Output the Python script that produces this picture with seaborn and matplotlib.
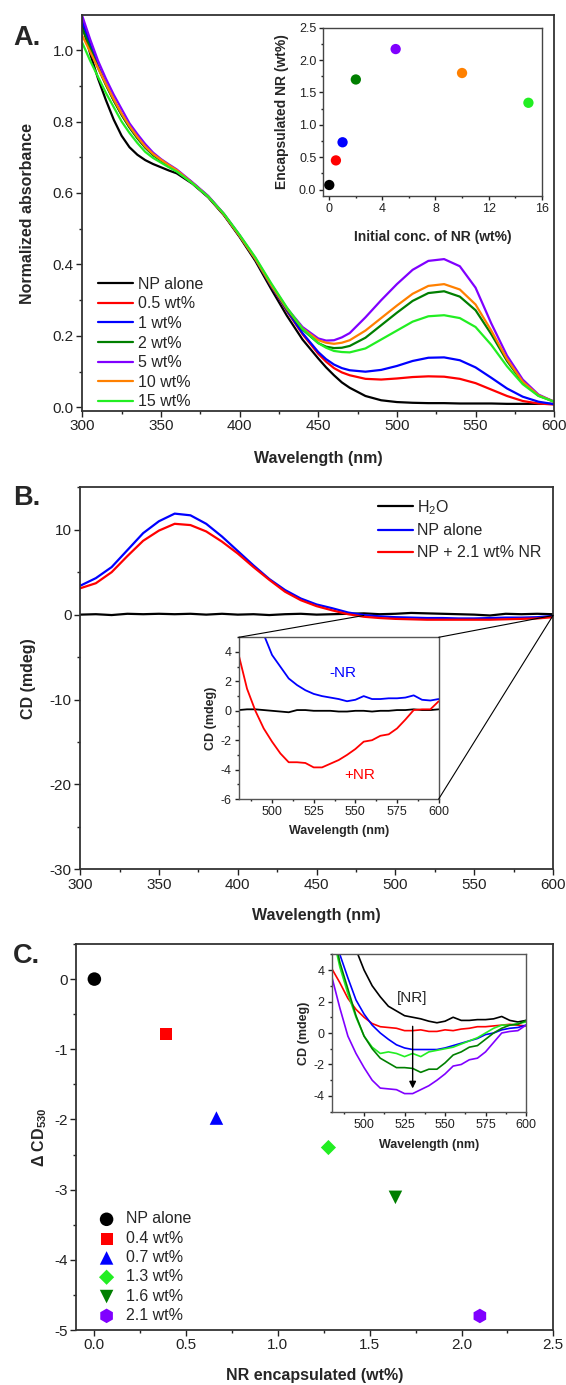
import numpy as np
import pandas as pd
import matplotlib
matplotlib.use("Agg")
import matplotlib.pyplot as plt
import seaborn as sns
from matplotlib.ticker import MultipleLocator
from matplotlib.patches import ConnectionPatch

# ---------------- Panel A: normalized absorbance spectra ----------------
wl_A = [300, 305, 310, 315, 320, 325, 330, 335, 340, 345, 350, 355, 360,
        370, 380, 390, 400, 410, 420, 430, 440, 450, 455, 460, 465, 470, 480, 490, 500,
        510, 520, 530, 540, 550, 560, 570, 580, 590, 600]
abs_np_alone = [1.07, 0.99, 0.92, 0.86, 0.805, 0.76, 0.728, 0.707, 0.692, 0.681, 0.672, 0.663, 0.655,
                0.626, 0.588, 0.538, 0.477, 0.41, 0.332, 0.257, 0.19, 0.137, 0.112, 0.09, 0.07, 0.055,
                0.032, 0.02, 0.015, 0.013, 0.012, 0.012, 0.011, 0.011, 0.011, 0.01, 0.01, 0.01, 0.01]
abs_05 = [1.085, 1.015, 0.955, 0.905, 0.86, 0.82, 0.785, 0.755, 0.728, 0.707, 0.692, 0.676, 0.662,
          0.628, 0.59, 0.54, 0.48, 0.415, 0.34, 0.27, 0.205, 0.15, 0.128, 0.11, 0.098, 0.09,
          0.08, 0.078, 0.081, 0.085, 0.087, 0.086, 0.08, 0.068, 0.05, 0.032, 0.018, 0.011, 0.008]
abs_1 = [1.08, 1.015, 0.955, 0.905, 0.86, 0.82, 0.785, 0.755, 0.728, 0.707, 0.692, 0.676, 0.662,
         0.628, 0.59, 0.54, 0.48, 0.415, 0.34, 0.272, 0.208, 0.155, 0.135, 0.12, 0.11, 0.104,
         0.1, 0.105, 0.116, 0.13, 0.139, 0.14, 0.132, 0.112, 0.083, 0.053, 0.03, 0.016, 0.009]
abs_2 = [1.06, 1.005, 0.95, 0.902, 0.858, 0.818, 0.783, 0.753, 0.727, 0.706, 0.691, 0.676, 0.662,
         0.628, 0.59, 0.54, 0.48, 0.415, 0.342, 0.275, 0.218, 0.18, 0.17, 0.166, 0.167, 0.172,
         0.195, 0.23, 0.265, 0.298, 0.32, 0.325, 0.31, 0.272, 0.205, 0.13, 0.07, 0.033, 0.016]
abs_5 = [1.095, 1.03, 0.97, 0.92, 0.875, 0.835, 0.795, 0.765, 0.737, 0.713, 0.695, 0.68, 0.666,
         0.63, 0.592, 0.542, 0.482, 0.418, 0.345, 0.278, 0.225, 0.193, 0.187, 0.188, 0.196, 0.208,
         0.252, 0.3, 0.345, 0.385, 0.41, 0.415, 0.395, 0.335, 0.235, 0.145, 0.078, 0.036, 0.016]
abs_10 = [1.04, 0.995, 0.95, 0.905, 0.862, 0.822, 0.787, 0.757, 0.73, 0.709, 0.693, 0.678, 0.664,
          0.628, 0.59, 0.54, 0.48, 0.416, 0.343, 0.277, 0.221, 0.188, 0.181, 0.178, 0.181, 0.188,
          0.215, 0.25, 0.285, 0.318, 0.34, 0.345, 0.33, 0.288, 0.215, 0.135, 0.072, 0.034, 0.016]
abs_15 = [1.02, 0.97, 0.925, 0.88, 0.84, 0.8, 0.768, 0.74, 0.715, 0.698, 0.685, 0.672, 0.66,
          0.627, 0.59, 0.542, 0.483, 0.42, 0.348, 0.28, 0.22, 0.18, 0.167, 0.158, 0.155, 0.154,
          0.165, 0.19, 0.215, 0.24, 0.255, 0.258, 0.25, 0.225, 0.175, 0.115, 0.065, 0.032, 0.016]
labels_A = ["NP alone", "0.5 wt%", "1 wt%", "2 wt%", "5 wt%", "10 wt%", "15 wt%"]
colors_A = ["#000000", "#ff0000", "#0000ff", "#007f00", "#8000ff", "#ff8000", "#22ee22"]

# inset A: encapsulation
init_conc = [0, 0.5, 1, 2, 5, 10, 15]
encap_nr = [0.07, 0.45, 0.73, 1.70, 2.17, 1.80, 1.34]

# ---------------- Panel B: CD spectra ----------------
wl_B = list(range(300, 601, 10))
cd_h2o = [0.0, 0.05, -0.05, 0.1, 0.05, 0.1, 0.05, 0.1, 0.0, 0.1, 0.0, 0.05, -0.05, 0.05,
          0.1, 0.0, 0.05, 0.1, 0.15, 0.05, 0.1, 0.2, 0.15, 0.1, 0.05, 0.0, -0.1, 0.1,
          0.05, 0.1, 0.05]
cd_np = [3.4, 4.3, 5.6, 7.6, 9.6, 11.0, 11.9, 11.7, 10.7, 9.2, 7.5, 5.8, 4.2, 2.9, 1.9,
         1.2, 0.75, 0.25, -0.05, -0.2, -0.3, -0.35, -0.4, -0.4, -0.45, -0.45, -0.4,
         -0.35, -0.35, -0.3, -0.15]
cd_np_nr = [3.1, 3.7, 5.0, 6.9, 8.7, 9.9, 10.7, 10.55, 9.8, 8.6, 7.2, 5.6, 4.1, 2.7, 1.7,
            1.0, 0.5, 0.05, -0.25, -0.4, -0.5, -0.55, -0.6, -0.6, -0.6, -0.6, -0.6,
            -0.55, -0.5, -0.45, -0.3]

# zoomed CD, 480-600 nm
wl_zoom = list(range(480, 601, 5))
zoom_h2o = [0.05, 0.1, 0.1, 0.05, 0.0, -0.05, -0.1, 0.05, 0.05, 0.0, 0.0, 0.0, -0.05,
            -0.05, 0.0, 0.0, -0.05, 0.0, 0.0, 0.05, 0.05, 0.1, 0.05, 0.05, 0.1]
zoom_np = [12.0, 9.0, 6.8, 5.2, 3.8, 3.0, 2.2, 1.75, 1.4, 1.15, 1.0, 0.9, 0.8, 0.65,
           0.75, 1.0, 0.8, 0.8, 0.85, 0.85, 0.9, 1.05, 0.75, 0.7, 0.8]
zoom_np_nr = [3.8, 1.5, 0.0, -1.2, -2.1, -2.9, -3.5, -3.5, -3.55, -3.85, -3.85, -3.6,
              -3.35, -3.0, -2.6, -2.1, -2.0, -1.7, -1.6, -1.2, -0.6, 0.05, 0.1, 0.1, 0.65]

# ---------------- Panel C: delta CD at 530 nm ----------------
nr_encap = [0.0, 0.39, 0.665, 1.275, 1.64, 2.10]
delta_cd = [0.0, -0.785, -1.98, -2.40, -3.11, -4.80]
labels_C = ["NP alone", "0.4 wt%", "0.7 wt%", "1.3 wt%", "1.6 wt%", "2.1 wt%"]
colors_C = ["#000000", "#ff0000", "#0000ff", "#22ee22", "#007f00", "#8000ff"]
markers_C = ["o", "s", "^", "D", "v", "h"]
sizes_C = [95, 75, 95, 60, 95, 110]

# inset C: CD 480-600 nm per loading
cdz_0 = [12.0, 9.0, 6.8, 5.3, 4.0, 3.0, 2.3, 1.7, 1.4, 1.1, 1.0, 0.9, 0.75, 0.65,
         0.75, 1.0, 0.8, 0.8, 0.85, 0.85, 0.9, 1.05, 0.8, 0.7, 0.8]
cdz_04 = [4.1, 3.2, 2.2, 1.5, 1.0, 0.6, 0.4, 0.35, 0.3, 0.15, 0.15, 0.2, 0.1, 0.1,
          0.2, 0.15, 0.25, 0.3, 0.4, 0.4, 0.45, 0.5, 0.55, 0.5, 0.45]
cdz_07 = [8.0, 5.0, 3.5, 2.1, 1.2, 0.5, 0.0, -0.4, -0.75, -0.95, -1.05, -1.05, -1.05,
          -1.05, -0.95, -0.8, -0.65, -0.5, -0.35, -0.1, 0.0, 0.2, 0.3, 0.35, 0.5]
cdz_13 = [6.5, 4.2, 2.5, 1.0, -0.2, -0.9, -1.3, -1.2, -1.3, -1.5, -1.3, -1.5, -1.2,
          -1.1, -1.0, -0.9, -0.7, -0.5, -0.3, 0.0, 0.3, 0.5, 0.5, 0.6, 0.7]
cdz_16 = [7.0, 4.5, 2.8, 1.1, -0.2, -1.0, -1.6, -1.9, -2.2, -2.2, -2.25, -2.5, -2.3,
          -2.3, -1.9, -1.4, -1.2, -0.9, -0.8, -0.4, 0.0, 0.3, 0.5, 0.55, 0.8]
cdz_21 = [3.6, 1.6, -0.2, -1.3, -2.2, -3.0, -3.5, -3.55, -3.6, -3.85, -3.85, -3.6,
          -3.35, -3.0, -2.6, -2.1, -2.0, -1.7, -1.6, -1.2, -0.6, 0.0, 0.1, 0.15, 0.5]

# ---------------- style ----------------
sns.set_theme(style="ticks")
plt.rcParams["font.family"] = ["Liberation Sans", "DejaVu Sans"]
plt.rcParams["mathtext.fontset"] = "custom"
plt.rcParams["mathtext.rm"] = "Liberation Sans"
plt.rcParams["mathtext.it"] = "Liberation Sans:italic"
plt.rcParams["mathtext.bf"] = "Liberation Sans:bold"
plt.rcParams["axes.unicode_minus"] = False

W, H = 566, 1385
fig = plt.figure(figsize=(W / 100, H / 100), dpi=100)


def px_axes(left, top, right, bottom):
    return fig.add_axes([left / W, 1 - bottom / H, (right - left) / W, (bottom - top) / H])


def style(ax, xmaj, xmin, ymaj, ymin, size, lw=1.3, color="#333333", tl=4):
    ax.xaxis.set_major_locator(MultipleLocator(xmaj))
    ax.xaxis.set_minor_locator(MultipleLocator(xmin))
    ax.yaxis.set_major_locator(MultipleLocator(ymaj))
    ax.yaxis.set_minor_locator(MultipleLocator(ymin))
    for sp in ax.spines.values():
        sp.set_visible(True)
        sp.set_linewidth(lw)
        sp.set_color(color)
    ax.tick_params(which="both", direction="out", top=False, right=False,
                   color="#222222", width=1.0, labelsize=size, labelcolor="#222222", pad=2)
    ax.tick_params(which="major", length=tl)
    ax.tick_params(which="minor", length=tl * 0.6)


BIG = 11
LAB = 11.5

# ================= Panel A =================
axA = px_axes(82.3, 15, 554.2, 411)
for yv, lab, col in zip([abs_np_alone, abs_05, abs_1, abs_2, abs_5, abs_10, abs_15],
                        labels_A, colors_A):
    sns.lineplot(x=wl_A, y=yv, color=col, lw=1.6, label=lab, ax=axA)
axA.set_xlim(300, 600)
axA.set_ylim(-0.01, 1.098)
style(axA, 50, 25, 0.2, 0.1, BIG)
axA.set_xlabel("Wavelength (nm)", fontsize=LAB, fontweight="bold", labelpad=13)
axA.set_ylabel("Normalized absorbance", fontsize=LAB, fontweight="bold", labelpad=13)
axA.legend(loc="lower left", bbox_to_anchor=(0.034, 0.004), frameon=False, fontsize=LAB,
           handlelength=2.2, handletextpad=0.27, labelspacing=0.29, borderpad=0,
           borderaxespad=0)

insA = px_axes(323.3, 27.7, 541.7, 196)
sns.scatterplot(x=init_conc, y=encap_nr, hue=labels_A, palette=colors_A, s=55,
                edgecolor="none", legend=False, ax=insA)
insA.set_xlim(-0.45, 16)
insA.set_ylim(-0.1, 2.5)
style(insA, 4, 2, 0.5, 0.25, 9, lw=1.0, color="#444444", tl=3)
insA.set_xlabel("Initial conc. of NR (wt%)", fontsize=10, fontweight="bold", labelpad=11)
insA.set_ylabel("Encapsulated NR (wt%)", fontsize=10, fontweight="bold", labelpad=7)

# ================= Panel B =================
axB = px_axes(80.1, 487.3, 553, 869.3)
sns.lineplot(x=wl_B, y=cd_h2o, color="black", lw=1.6, label="H$_\\mathrm{2}$O", ax=axB)
sns.lineplot(x=wl_B, y=cd_np, color="#0000ff", lw=1.6, label="NP alone", ax=axB)
sns.lineplot(x=wl_B, y=cd_np_nr, color="#ff0000", lw=1.6, label="NP + 2.1 wt% NR", ax=axB)
axB.set_xlim(300, 600)
axB.set_ylim(-30, 15)
style(axB, 50, 25, 10, 5, BIG)
axB.set_xlabel("Wavelength (nm)", fontsize=LAB, fontweight="bold", labelpad=12)
axB.set_ylabel("CD (mdeg)", fontsize=LAB, fontweight="bold", labelpad=10)
axB.legend(loc="upper left", bbox_to_anchor=(0.631, 0.972), frameon=False, fontsize=LAB,
           handlelength=2.15, handletextpad=0.27, labelspacing=0.42, borderpad=0,
           borderaxespad=0)

insB = px_axes(238.7, 637.3, 438.7, 799)
sns.lineplot(x=wl_zoom, y=zoom_h2o, color="black", lw=1.3, ax=insB)
sns.lineplot(x=wl_zoom, y=zoom_np, color="#0000ff", lw=1.3, ax=insB)
sns.lineplot(x=wl_zoom, y=zoom_np_nr, color="#ff0000", lw=1.3, ax=insB)
insB.set_xlim(480, 600)
insB.set_ylim(-6, 5)
style(insB, 25, 12.5, 2, 1, 9, lw=1.0, color="#555555", tl=3)
insB.set_xlabel("Wavelength (nm)", fontsize=9, fontweight="bold", labelpad=5)
insB.set_ylabel("CD (mdeg)", fontsize=9, fontweight="bold", labelpad=3)
insB.text(542.5, 2.6, "-NR", color="#0000ff", fontsize=11, ha="center", va="center")
insB.text(552.5, -4.4, "+NR", color="#ff0000", fontsize=11, ha="center", va="center")

for (xa, ya), (xb, yb) in [((480, 5), (480, -0.1)), ((600, 5), (600, -0.1)),
                           ((600, -6), (600, -0.1))]:
    fig.add_artist(ConnectionPatch(xyA=(xa, ya), coordsA=insB.transData,
                                   xyB=(xb, yb), coordsB=axB.transData,
                                   color="black", lw=0.8))

# ================= Panel C =================
axC = px_axes(76, 944, 553.3, 1330)
for xv, yv, lab, col, mk, sz in zip(nr_encap, delta_cd, labels_C, colors_C, markers_C, sizes_C):
    sns.scatterplot(x=[xv], y=[yv], color=col, marker=mk, s=sz, edgecolor="none",
                    label=lab, ax=axC)
axC.set_xlim(-0.1, 2.5)
axC.set_ylim(-5, 0.5)
style(axC, 0.5, 0.25, 1, 0.5, BIG)
axC.set_xlabel("NR encapsulated (wt%)", fontsize=LAB, fontweight="bold", labelpad=11)
axC.set_ylabel("Δ CD$_{\\mathbf{530}}$", fontsize=LAB, fontweight="bold", labelpad=4)
axC.legend(loc="lower left", bbox_to_anchor=(0.044, 0.018), frameon=False, fontsize=LAB,
           handlelength=1.2, handletextpad=0.64, labelspacing=0.27, borderpad=0,
           borderaxespad=0, scatterpoints=1)

insC = px_axes(331.7, 954.3, 526, 1111.7)
for yv, col in zip([cdz_0, cdz_04, cdz_07, cdz_13, cdz_16, cdz_21], colors_C):
    sns.lineplot(x=wl_zoom, y=yv, color=col, lw=1.2, ax=insC)
insC.set_xlim(480, 600)
insC.set_ylim(-5, 5)
style(insC, 25, 12.5, 2, 1, 9, lw=1.0, color="#555555", tl=3)
insC.set_xlabel("Wavelength (nm)", fontsize=9, fontweight="bold", labelpad=6)
insC.set_ylabel("CD (mdeg)", fontsize=9, fontweight="bold", labelpad=3)
insC.text(529.7, 2.2, "[NR]", fontsize=11, ha="center", va="center")
insC.annotate("", xy=(530, -3.7), xytext=(530, 0.6),
              arrowprops=dict(arrowstyle="-|>", color="black", lw=1.0, mutation_scale=10))

# panel letters
for letter, ytop in [("A.", 45), ("B.", 505), ("C.", 963)]:
    fig.text(13 / W, 1 - ytop / H, letter, fontsize=19.5, fontweight="bold", va="baseline")

fig.savefig("out.png", dpi=100)
